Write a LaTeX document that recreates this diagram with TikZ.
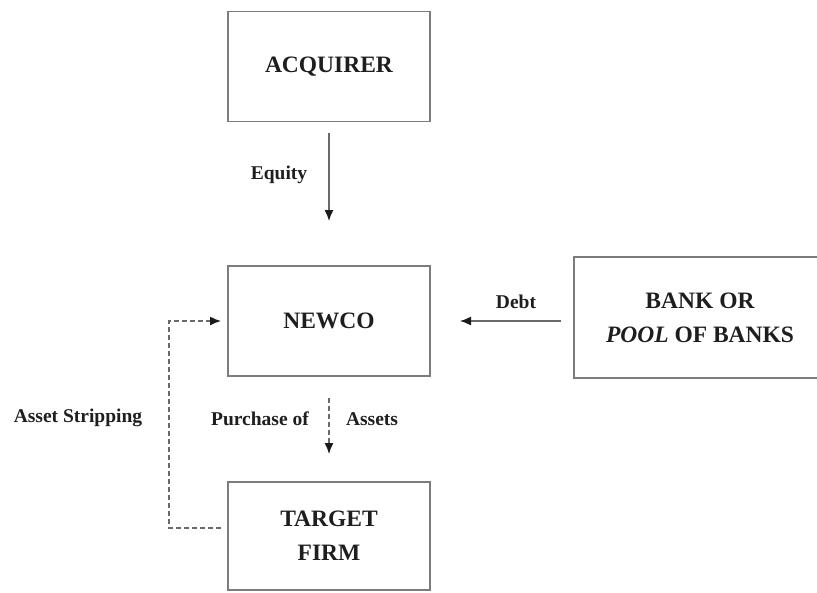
\documentclass[tikz,border=0pt]{standalone}
\usepackage{fontspec}
\setmainfont{Liberation Serif}
\usetikzlibrary{arrows.meta}
\definecolor{boxline}{HTML}{7C7C7C}
\definecolor{arrline}{HTML}{6A6A6A}
\definecolor{tipcol}{HTML}{1A1A1A}
\definecolor{txt}{HTML}{1E1E1E}
\tikzset{
  entity/.style={draw=boxline, line width=1.6pt, minimum width=202pt, minimum height=110pt,
    inner sep=0pt, text=txt, align=center,
    font=\bfseries\fontsize{23.5}{34}\selectfont},
  lbl/.style={text=txt, inner sep=0pt, font=\bfseries\fontsize{19.5}{22}\selectfont},
  flow/.style={draw=arrline, line width=1.4pt, -{Latex[length=11pt,width=9pt,color=tipcol]}},
  dflow/.style={flow, dash pattern=on 5pt off 3pt}
}
\begin{document}
\begin{tikzpicture}[x=1pt,y=-1pt]
\useasboundingbox (0,0) rectangle (817,592);
\node[entity] (acq) at (329,66.5) {ACQUIRER};
\node[entity] (newco) at (329,321) {NEWCO};
\node[entity, minimum height=108pt] (target) at (329,536) {TARGET\\FIRM};
\node[entity, minimum width=252pt, minimum height=121pt] (bank) at (700,317.5) {BANK OR\\\textit{POOL} OF BANKS};

\coordinate (eqs) at (329,133);
\coordinate (eqe) at (329,221);
\draw[flow] (eqs) -- (eqe);
\node[lbl] (eqlbl) at (279,175) {Equity};

\coordinate (ds) at (561,321);
\coordinate (de) at (460,321);
\draw[flow] (ds) -- (de);
\node[lbl] (dlbl) at (516,302) {Debt};

\coordinate (ps) at (329,398);
\coordinate (pe) at (329,454);
\draw[dflow] (ps) -- (pe);
\node[lbl] (plbl) at (260,419) {Purchase of};
\node[lbl] (albl) at (372,419) {Assets};

\coordinate (as) at (221,528);
\coordinate (ae) at (221,321);
\draw[dflow] (as) -- (169,528) -- (169,321) -- (ae);
\node[lbl] (alabel) at (78,418) {Asset Stripping};
\end{tikzpicture}
\end{document}
